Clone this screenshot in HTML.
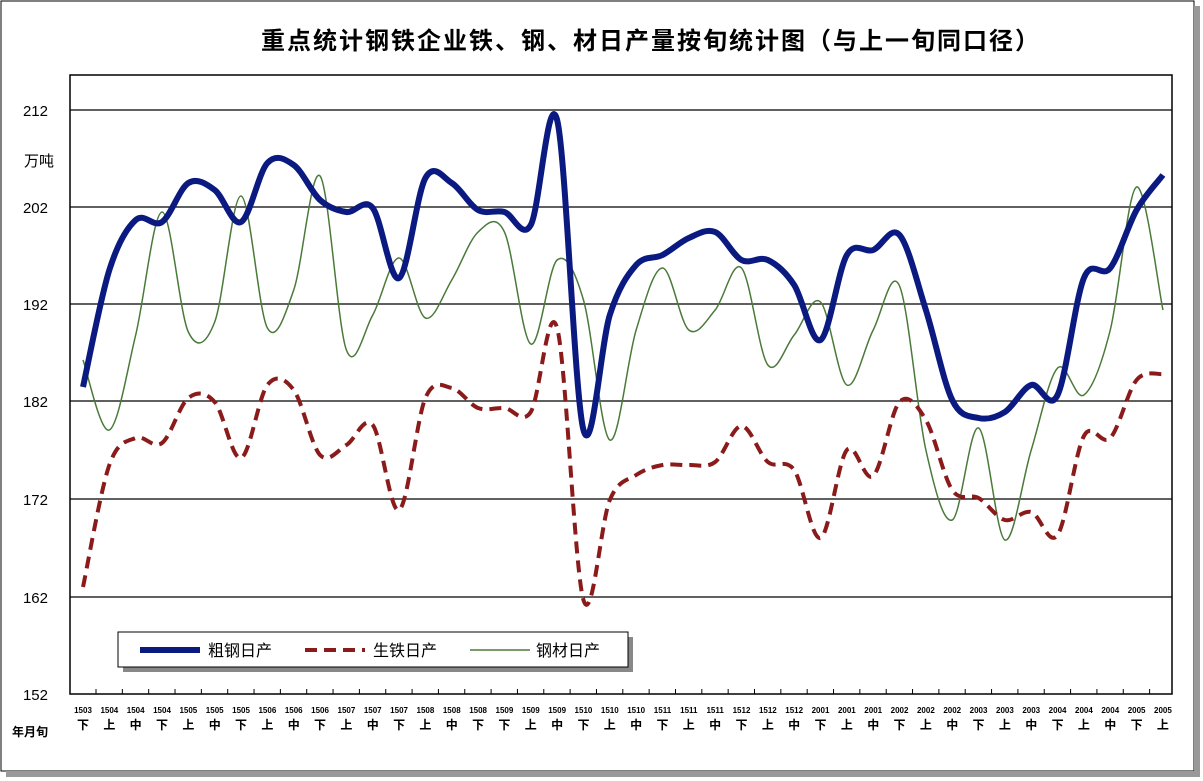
<!DOCTYPE html>
<html><head><meta charset="utf-8"><style>
body{margin:0;background:#fff;}
svg{display:block;font-family:"Liberation Sans","Noto Sans CJK SC",sans-serif;}
</style></head><body>
<svg id="s" width="1203" height="781" xmlns="http://www.w3.org/2000/svg">
<rect x="1" y="1" width="1193" height="770" fill="#fff" stroke="#000" stroke-width="1"/>
<rect x="1194" y="6" width="6" height="768" fill="#999"/>
<rect x="6" y="771" width="1194" height="6" fill="#999"/>
<text x="651" y="49" text-anchor="middle" font-size="24" letter-spacing="2" font-weight="bold" font-family="'Noto Sans CJK SC',sans-serif">重点统计钢铁企业铁、钢、材日产量按旬统计图（与上一旬同口径）</text>
<rect x="70" y="75" width="1102" height="619" fill="none" stroke="#000" stroke-width="1.5"/>
<g stroke="#000" stroke-width="1.2">
<line x1="70" y1="110" x2="1172" y2="110"/><line x1="70" y1="207" x2="1172" y2="207"/>
<line x1="70" y1="304" x2="1172" y2="304"/><line x1="70" y1="401" x2="1172" y2="401"/>
<line x1="70" y1="499" x2="1172" y2="499"/><line x1="70" y1="597" x2="1172" y2="597"/>
</g>
<g font-size="15" text-anchor="end">
<text x="48" y="116">212</text><text x="48" y="213">202</text><text x="48" y="310">192</text>
<text x="48" y="407">182</text><text x="48" y="505">172</text><text x="48" y="603">162</text><text x="48" y="700">152</text>
</g>
<text x="24" y="166" font-size="15">万吨</text>
<text x="12" y="736" font-size="12" font-weight="bold">年月旬</text>
<g id="ax"></g>
<path id="g" fill="none" stroke="#4a7a3a" stroke-width="1.5"/>
<path id="r" fill="none" stroke="#8b1a1a" stroke-width="4" stroke-dasharray="12,7"/>
<path id="b" fill="none" stroke="#0a1a80" stroke-width="6"/>
<rect x="123" y="637" width="510" height="35" fill="#888"/>
<rect x="118" y="632" width="510" height="35" fill="#fff" stroke="#000"/>
<line x1="140" y1="650" x2="200" y2="650" stroke="#0a1a80" stroke-width="6"/>
<text x="208" y="656" font-size="16">粗钢日产</text>
<line x1="305" y1="650" x2="365" y2="650" stroke="#8b1a1a" stroke-width="4" stroke-dasharray="12,7"/>
<text x="373" y="656" font-size="16">生铁日产</text>
<line x1="470" y1="650" x2="530" y2="650" stroke="#4a7a3a" stroke-width="1.5"/>
<text x="536" y="656" font-size="16">钢材日产</text>
</svg>
<script>
var B=[387,270,220,222,183,190,222,163,165,200,212,208,278,178,183,210,212,225,120,430,315,265,255,238,232,260,260,285,340,255,250,235,310,400,418,412,385,395,278,268,210,175];
var R=[587,465,438,443,398,402,458,385,390,455,445,425,510,398,388,408,408,412,328,600,500,475,465,465,462,426,462,470,538,450,476,402,420,490,498,520,512,535,436,438,380,374];
var G=[360,430,335,212,332,322,196,328,290,176,350,315,258,318,280,232,232,344,260,300,440,330,268,330,310,268,365,335,302,385,330,286,450,520,428,540,450,368,395,330,187,310];
function X(i){return 83+26.34*i;}
function path(a){var p=[];for(var i=0;i<a.length;i++)p.push([X(i),a[i]]);
var d="M"+p[0][0]+","+p[0][1];
for(var i=0;i<p.length-1;i++){var p0=p[i-1]||p[i],p1=p[i],p2=p[i+1],p3=p[i+2]||p2;
var c1=[p1[0]+(p2[0]-p0[0])/6,p1[1]+(p2[1]-p0[1])/6],c2=[p2[0]-(p3[0]-p1[0])/6,p2[1]-(p3[1]-p1[1])/6];
d+=" C"+c1+" "+c2+" "+p2;}return d;}
document.getElementById("b").setAttribute("d",path(B));
document.getElementById("r").setAttribute("d",path(R));
document.getElementById("g").setAttribute("d",path(G));
var L=["1503","1504","1504","1504","1505","1505","1505","1506","1506","1506","1507","1507","1507","1508","1508","1508","1509","1509","1509","1510","1510","1510","1511","1511","1511","1512","1512","1512","2001","2001","2001","2002","2002","2002","2003","2003","2003","2004","2004","2004","2005","2005"];
var T=["下","上","中","下","上","中","下","上","中","下","上","中","下","上","中","下","下","上","中","下","上","中","下","上","中","下","上","中","下","上","中","下","上","中","下","上","中","下","上","中","下","上"];
var s="";
for(var i=0;i<42;i++){var x=X(i);
if(i<41)s+='<line x1="'+(x+13)+'" y1="689" x2="'+(x+13)+'" y2="694" stroke="#000"/>';
s+='<text x="'+x+'" y="713" font-size="8" font-weight="bold" text-anchor="middle">'+L[i]+'</text>';
s+='<text x="'+x+'" y="729" font-size="12" font-weight="bold" text-anchor="middle">'+T[i]+'</text>';}
document.getElementById("ax").innerHTML=s;
</script>
</body></html>
